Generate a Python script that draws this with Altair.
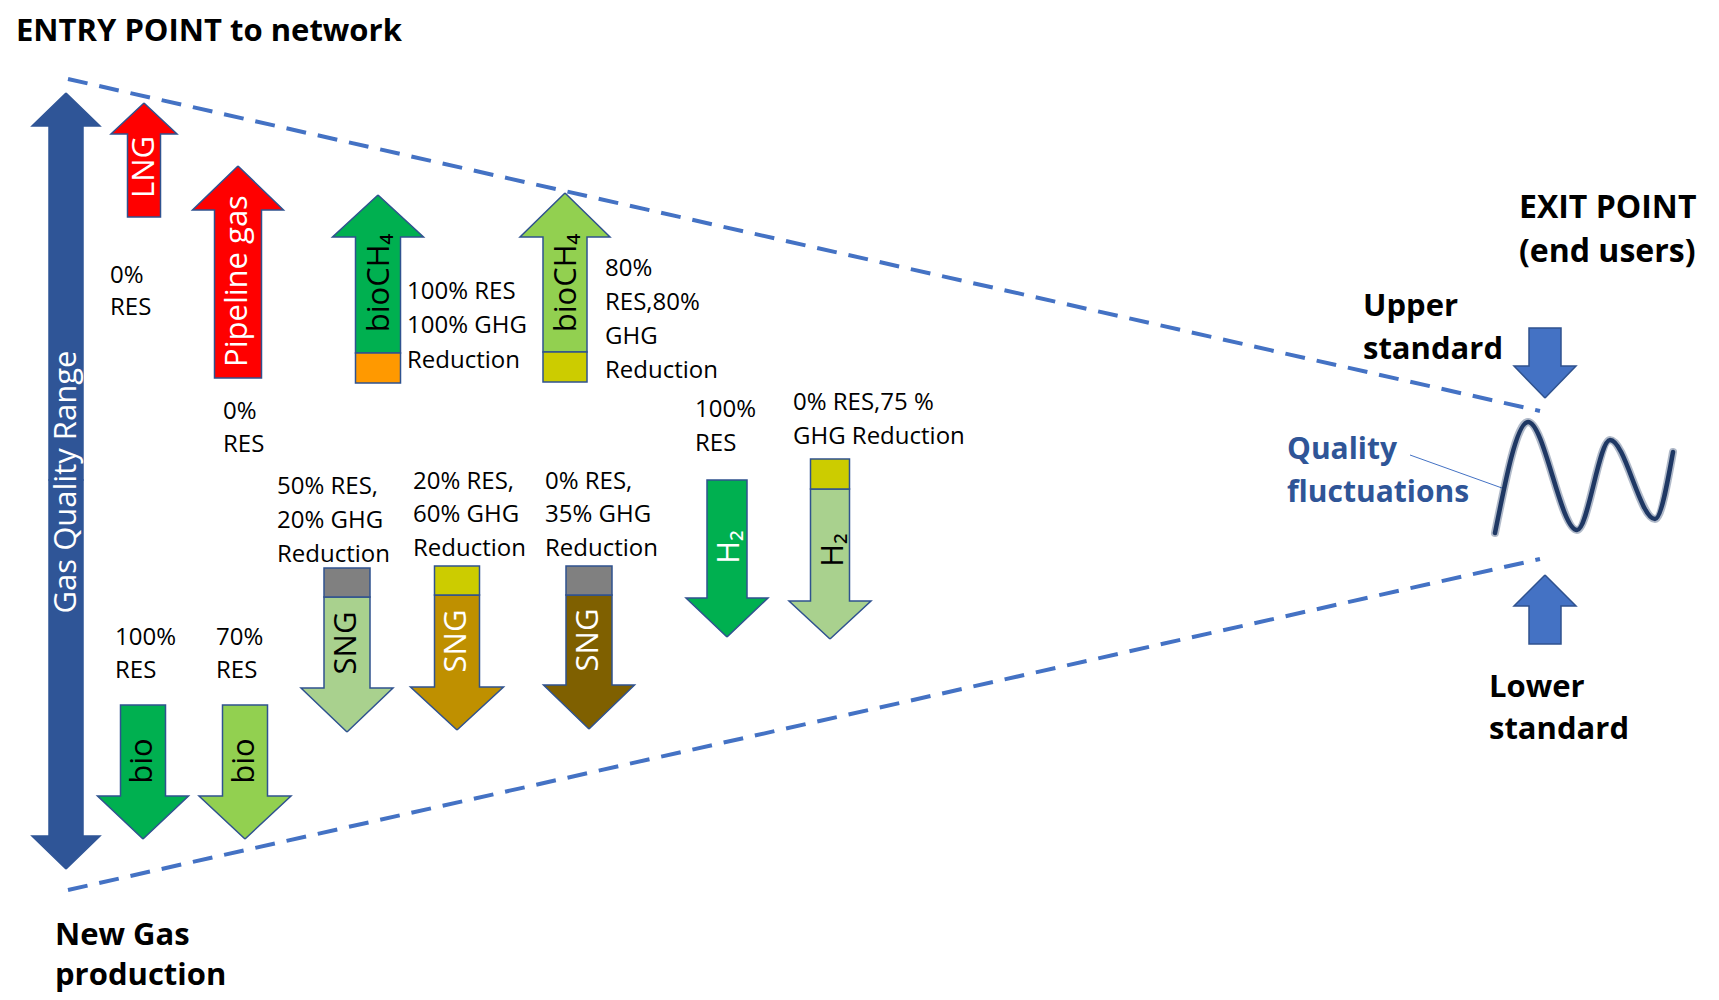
import altair as alt
import pandas as pd

# ---------------- data (page pixel coordinates) ----------------
# Block arrows: centre x, tip y, head-base y, tail y, head half-width, shaft half-width
arrow_id = ["range_up", "range_down", "LNG", "pipeline", "bioCH4_a", "bioCH4_b",
            "bio_a", "bio_b", "SNG_a", "SNG_b", "SNG_c", "H2_a", "H2_b",
            "upper_std", "lower_std"]
arrow_cx = [66, 66, 144, 238, 378, 565, 143, 245, 347, 457, 589, 727, 830, 1545, 1545]
arrow_tip = [93, 869, 103, 166, 195, 193, 839, 839, 732, 730, 729, 637, 639, 398, 575]
arrow_hb = [126, 836, 134, 210, 237, 237, 796, 796, 688, 687, 685, 598, 601, 366, 606]
arrow_tail = [480, 480, 217, 378, 353, 352, 705, 705, 597, 595, 595, 480, 489, 328, 644]
arrow_hh = [34, 34, 33, 45.5, 45.5, 45, 45.5, 46, 46, 46.5, 45.5, 41, 41, 31, 31]
arrow_sh = [17, 17, 16.5, 23.5, 22.5, 22, 22.5, 22.5, 23, 22.5, 23, 20, 19.5, 16, 16]
arrow_fill = ["#2F5597", "#2F5597", "#FF0000", "#FF0000", "#00B050", "#92D050",
              "#00B050", "#92D050", "#A9D18E", "#BF9000", "#7F6000", "#00B050", "#A9D18E",
              "#4472C4", "#4472C4"]
arrow_edge = ["#2F5597", "#2F5597"] + ["#2F528F"] * 13

# Small coloured boxes at the arrow tails
box_cx = [378, 565, 347, 457, 589, 830]
box_top = [353, 352, 568, 566, 566, 459]
box_bottom = [383, 382, 597, 595, 595, 489]
box_half = [22.5, 22, 23, 22.5, 23, 19.5]
box_color = ["#FF9900", "#CCCC00", "#808080", "#CCCC00", "#808080", "#CCCC00"]

# Dashed envelope lines
dash_id = ["upper", "upper", "lower", "lower"]
dash_x = [68, 1540, 68, 1540]
dash_y = [79, 411, 890, 559]

# Leader line for "Quality fluctuations"
lead_x = [1410, 1502]
lead_y = [455, 488]

# Quality-fluctuation wave (start, peaks, troughs, end)
wave_x = [1495, 1528, 1577, 1610, 1655, 1673]
wave_y = [533, 422, 530, 440, 519, 452]

# Regular annotation text lines
note_text = ["0%", "RES", "0%", "RES",
             "100% RES", "100% GHG", "Reduction",
             "80%", "RES,80%", "GHG", "Reduction",
             "100%", "RES", "0% RES,75 %", "GHG Reduction",
             "50% RES,", "20% GHG", "Reduction",
             "20% RES,", "60% GHG", "Reduction",
             "0% RES,", "35% GHG", "Reduction",
             "100%", "RES", "70%", "RES"]
note_x = [110, 110, 223, 223,
          407, 407, 407,
          605, 605, 605, 605,
          695, 695, 793, 793,
          277, 277, 277,
          413, 413, 413,
          545, 545, 545,
          115, 115, 216, 216]
note_y = [276, 308, 412, 445,
          292, 326, 361,
          269, 303, 337, 371,
          410, 444, 403, 437,
          487, 521, 555,
          482, 515, 549,
          482, 515, 549,
          638, 671, 638, 671]

# Bold headings
head_text = ["ENTRY POINT to network", "EXIT POINT", "(end users)", "Upper", "standard",
             "Lower", "standard", "Quality", "fluctuations", "New Gas", "production"]
head_x = [16, 1519, 1519, 1363, 1363, 1489, 1489, 1287, 1287, 55, 55]
head_y = [32, 208, 252, 307, 350, 688, 730, 450, 493, 936, 976]
head_size = [31, 32, 32, 31, 31, 31, 31, 30, 30, 31, 31]
head_color = ["#000000"] * 7 + ["#2F5597", "#2F5597"] + ["#000000"] * 2

# Rotated labels inside arrows
lab_text = ["Gas Quality Range", "LNG", "Pipeline gas", "bioCH₄", "bioCH₄", "bio", "bio",
            "SNG", "SNG", "SNG", "H₂", "H₂"]
lab_x = [67, 145, 238, 380, 567, 143, 245, 347, 457, 589, 730, 834]
lab_y = [482, 167, 281, 283, 283, 761, 761, 643, 641, 640, 547, 550]
lab_color = ["#FFFFFF", "#FFFFFF", "#FFFFFF", "#000000", "#000000", "#000000", "#000000",
             "#000000", "#FFFFFF", "#FFFFFF", "#FFFFFF", "#000000"]

# ---------------- build tables ----------------
rows = []
for i, name in enumerate(arrow_id):
    cx, t, hb, tl = arrow_cx[i], arrow_tip[i], arrow_hb[i], arrow_tail[i]
    hh, sh = arrow_hh[i], arrow_sh[i]
    pts = [(cx, t), (cx + hh, hb), (cx + sh, hb), (cx + sh, tl),
           (cx - sh, tl), (cx - sh, hb), (cx - hh, hb), (cx, t)]
    for k, (px, py) in enumerate(pts):
        rows.append({"id": name, "k": k, "x": px, "y": py,
                     "fill": arrow_fill[i], "edge": arrow_edge[i]})
arrows_df = pd.DataFrame(rows)

boxes_df = pd.DataFrame({
    "x": [c - h for c, h in zip(box_cx, box_half)],
    "x2": [c + h for c, h in zip(box_cx, box_half)],
    "y": box_top, "y2": box_bottom, "color": box_color})

dash_df = pd.DataFrame({"id": dash_id, "x": dash_x, "y": dash_y, "k": [0, 1, 0, 1]})
lead_df = pd.DataFrame({"x": lead_x, "y": lead_y})
wave_df = pd.DataFrame({"x": wave_x, "y": wave_y})
note_df = pd.DataFrame({"t": note_text, "x": note_x, "y": note_y})
head_df = pd.DataFrame({"t": head_text, "x": head_x, "y": head_y, "c": head_color,
                        "s": head_size})
lab_df = pd.DataFrame({"t": lab_text, "x": lab_x, "y": lab_y, "c": lab_color})

# ---------------- scales: data coordinates = page pixels ----------------
W, H = 1703, 988
xs = alt.Scale(domain=[8, 8 + W], nice=False, zero=False)
ys = alt.Scale(domain=[8, 8 + H], nice=False, zero=False, reverse=True)
X = lambda f="x": alt.X(f"{f}:Q", scale=xs, axis=None)
Y = lambda f="y": alt.Y(f"{f}:Q", scale=ys, axis=None)

arrows = alt.Chart(arrows_df).mark_line(strokeWidth=1.5, strokeJoin="miter").encode(
    x=X(), y=Y(), detail="id:N", order="k:Q",
    fill=alt.Fill("fill:N", scale=None), stroke=alt.Stroke("edge:N", scale=None))

boxes = alt.Chart(boxes_df).mark_rect(stroke="#2F528F", strokeWidth=1.5).encode(
    x=X(), x2="x2:Q", y=Y(), y2="y2:Q", fill=alt.Fill("color:N", scale=None))

dashes = alt.Chart(dash_df).mark_line(strokeDash=[20, 12], strokeWidth=4, color="#4472C4").encode(
    x=X(), y=Y(), detail="id:N", order="k:Q")

leader = alt.Chart(lead_df).mark_line(strokeWidth=1, color="#4472C4").encode(x=X(), y=Y())

wave_halo = alt.Chart(wave_df).mark_line(interpolate="monotone", strokeWidth=8, color="#1F3864",
                                         opacity=0.35, strokeCap="round").encode(x=X(), y=Y())
wave = alt.Chart(wave_df).mark_line(interpolate="monotone", strokeWidth=4.5, color="#1F3864",
                                    strokeCap="round").encode(x=X(), y=Y())

notes = alt.Chart(note_df).mark_text(font="Open Sans", fontSize=24, align="left",
                                     baseline="middle", color="#000000").encode(
    x=X(), y=Y(), text="t:N")

heads = alt.Chart(head_df).mark_text(font="Open Sans", fontWeight="bold",
                                     align="left", baseline="middle").encode(
    x=X(), y=Y(), text="t:N", color=alt.Color("c:N", scale=None),
    size=alt.Size("s:Q", scale=None))

labels = alt.Chart(lab_df).mark_text(font="Open Sans", fontSize=31, angle=270,
                                     align="center", baseline="middle").encode(
    x=X(), y=Y(), text="t:N", color=alt.Color("c:N", scale=None))

chart = alt.layer(arrows, boxes, dashes, leader, wave_halo, wave, notes, heads, labels).properties(
    width=W, height=H, padding=0,
    autosize=alt.AutoSizeParams(type="none"),
    background="#FFFFFF",
).configure_view(stroke=None)

chart.save("out.html", embed_options={"renderer": "svg", "actions": False})
